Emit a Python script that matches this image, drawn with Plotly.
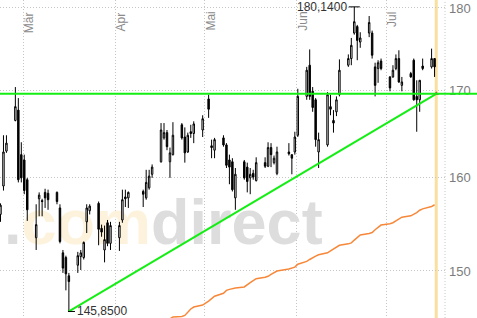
import numpy as np
import pandas as pd
import plotly.graph_objects as go

# ---------------- data ----------------
dates = [
    "2018-02-21", "2018-02-22", "2018-02-23", "2018-02-26", "2018-02-27", "2018-02-28",
    "2018-03-01", "2018-03-02", "2018-03-05", "2018-03-06", "2018-03-07", "2018-03-08", "2018-03-09",
    "2018-03-12", "2018-03-13", "2018-03-14", "2018-03-15", "2018-03-16",
    "2018-03-19", "2018-03-20", "2018-03-21", "2018-03-22", "2018-03-23",
    "2018-03-26", "2018-03-27", "2018-03-28", "2018-03-29", "2018-03-30",
    "2018-04-02", "2018-04-03", "2018-04-04", "2018-04-05",
    "2018-04-10", "2018-04-11", "2018-04-12", "2018-04-13",
    "2018-04-16", "2018-04-17", "2018-04-18", "2018-04-19", "2018-04-20",
    "2018-04-23", "2018-04-24", "2018-04-25", "2018-04-26", "2018-04-27",
    "2018-04-30", "2018-05-02", "2018-05-03", "2018-05-04",
    "2018-05-07", "2018-05-08", "2018-05-09", "2018-05-10", "2018-05-11",
    "2018-05-14", "2018-05-15", "2018-05-16", "2018-05-17", "2018-05-18",
    "2018-05-21", "2018-05-22", "2018-05-23", "2018-05-24", "2018-05-25",
    "2018-05-29", "2018-05-30", "2018-05-31", "2018-06-01",
    "2018-06-04", "2018-06-05", "2018-06-06", "2018-06-07", "2018-06-08",
    "2018-06-11", "2018-06-12", "2018-06-13", "2018-06-14", "2018-06-15",
    "2018-06-18", "2018-06-19", "2018-06-20", "2018-06-21", "2018-06-22",
    "2018-06-25", "2018-06-26", "2018-06-27", "2018-06-28", "2018-06-29",
    "2018-07-02", "2018-07-03", "2018-07-04", "2018-07-05", "2018-07-06",
    "2018-07-09", "2018-07-10", "2018-07-11", "2018-07-12", "2018-07-13",
    "2018-07-16", "2018-07-17",
]
opens = [
    156.0, 159.1, 163.0, 166.5, 167.7, 162.6,
    162.0, 159.8, 153.5, 157.7, 157.5, 158.4, 158.3,
    158.4, 156.7, 151.9, 151.4, 149.5,
    150.6, 151.5, 151.4, 155.2, 156.4,
    157.2, 154.5, 152.2, 155.1, 152.9,
    153.5, 155.4, 157.9, 157.8,
    158.5, 157.8, 158.9, 160.4,
    161.8, 164.5, 165.1, 161.8, 162.6,
    166.0, 164.6, 162.9, 165.2, 165.0,
    165.4, 169.0, 163.6, 163.1,
    164.5, 163.7, 162.0, 161.8, 157.8,
    161.8, 161.2, 160.0, 160.5, 159.7,
    161.7, 161.3, 163.4, 161.7, 160.5,
    162.9, 162.6, 162.9, 164.8,
    169.3, 173.0, 169.9, 168.9, 162.9,
    163.7, 168.1, 166.5, 167.5, 169.5,
    173.0, 173.8, 176.9, 177.7, 175.8,
    176.9, 176.9, 172.8, 172.6, 173.5,
    171.6, 171.6, 172.6, 173.8, 170.6,
    172.0, 173.6, 169.3, 168.9, 172.9,
    172.8, 173.8,
]
highs = [
    157.2, 164.8, 164.8, 170.4, 169.1, 164.0,
    162.6, 160.0, 157.1, 158.4, 157.7, 158.8, 158.7,
    158.5, 157.1, 152.2, 151.6, 149.8,
    152.0, 152.2, 153.1, 157.1, 157.1,
    157.4, 154.9, 154.8, 155.4, 155.2,
    155.2, 158.7, 158.7, 158.5,
    158.7, 160.9, 160.9, 161.5,
    166.2, 166.2, 165.4, 163.4, 166.3,
    166.2, 165.7, 165.1, 166.0, 166.4,
    167.1, 169.5, 164.3, 164.5,
    164.8, 163.9, 162.6, 162.2, 161.1,
    162.0, 161.7, 161.1, 160.9, 162.3,
    162.3, 164.0, 163.9, 162.5, 163.5,
    163.9, 162.6, 165.2, 170.2,
    172.8, 174.9, 170.4, 169.1, 165.1,
    169.8, 169.5, 167.7, 169.3, 173.7,
    174.3, 176.3, 180.14, 177.9, 177.0,
    179.0, 177.2, 173.3, 173.6, 173.8,
    171.7, 173.0, 174.3, 174.8, 171.6,
    172.2, 173.8, 171.2, 171.2, 173.8,
    175.0, 173.8,
]
lows = [
    155.2, 158.6, 162.8, 166.4, 159.5, 159.5,
    158.2, 155.3, 152.2, 155.8, 155.8, 156.7, 156.5,
    157.1, 152.9, 149.8, 148.0, 145.85,
    149.8, 150.1, 151.2, 154.0, 156.0,
    152.7, 153.6, 150.9, 152.6, 152.2,
    152.1, 155.1, 156.8, 156.7,
    156.8, 157.6, 158.7, 160.0,
    161.7, 164.3, 163.1, 160.0, 162.5,
    164.3, 161.7, 162.8, 164.5, 163.9,
    164.6, 166.8, 162.2, 162.2,
    163.5, 161.1, 159.3, 158.5, 156.5,
    159.8, 158.4, 158.2, 159.8, 159.6,
    161.1, 161.2, 161.2, 161.5, 160.3,
    162.5, 160.4, 162.6, 164.6,
    168.9, 168.9, 167.5, 163.5, 161.1,
    163.5, 167.1, 165.1, 167.0, 169.3,
    172.8, 173.0, 176.7, 173.6, 175.1,
    176.4, 173.8, 169.3, 170.9, 172.4,
    169.9, 171.5, 172.4, 170.9, 169.9,
    171.5, 168.8, 165.2, 167.5, 172.4,
    172.6, 171.6,
]
closes = [
    157.0, 162.9, 163.9, 168.1, 159.8, 160.0,
    158.6, 156.5, 154.9, 158.1, 157.4, 157.8, 157.6,
    157.4, 153.1, 150.3, 149.7, 148.9,
    151.6, 151.9, 153.0, 156.7, 156.9,
    154.4, 154.1, 153.3, 152.9, 154.8,
    154.8, 157.6, 157.7, 158.4,
    158.2, 159.5, 160.2, 161.2,
    165.4, 165.1, 163.5, 162.8, 164.8,
    164.5, 162.8, 164.8, 165.0, 166.1,
    166.7, 167.8, 163.4, 164.3,
    163.7, 161.4, 161.2, 158.7, 160.4,
    160.0, 159.6, 160.4, 160.1, 161.7,
    161.3, 163.4, 162.6, 162.2, 162.9,
    162.7, 162.2, 164.6, 169.3,
    172.4, 169.3, 168.0, 164.3, 164.3,
    169.5, 167.8, 166.2, 168.9, 172.4,
    173.8, 175.4, 178.3, 176.0, 176.3,
    178.2, 174.2, 170.6, 173.3, 172.6,
    170.3, 172.4, 173.8, 171.0, 171.0,
    171.6, 168.9, 168.9, 171.2, 172.6,
    173.8, 172.8,
]

# moving average (orange), from 2018-04-16 onward
ma_start = "2018-04-16"
ma_values = [
    144.3, 144.6, 144.9, 145.1, 145.3,
    145.35, 145.45, 145.8, 146.1, 146.3,
    146.5,
    146.9, 147.2, 147.4,
    147.7, 148.0, 148.1, 148.2, 148.25,
    148.35, 148.6, 148.8, 149.0, 149.2,
    149.35, 149.45, 149.65, 149.85, 150.0,
    150.2, 150.3, 150.4,
    150.7,
    151.0, 151.2, 151.4, 151.55, 151.7,
    151.9, 152.1, 152.3, 152.5, 152.7,
    152.85, 152.95, 153.25, 153.5, 153.8,
    153.95, 154.05, 154.35, 154.6, 154.85,
    155.0, 155.1, 155.3, 155.5, 155.7,
    155.85, 156.0, 156.2, 156.45, 156.6,
    156.85, 157.05,
]

high_date, high_value, high_text = "2018-06-20", 180.14, "180,1400"
low_date, low_value, low_text = "2018-03-16", 145.85, "145,8500"
resistance_level = 169.6
trend_end_date, trend_end_value = "2018-07-17 21:30", 169.6
today_date = "2018-07-17 21:30"

month_ticks = ["2018-03-01", "2018-04-01", "2018-05-01", "2018-06-01", "2018-07-01"]
month_labels = ["Mär", "Apr", "Mai", "Jun", "Jul"]
y_ticks = [150, 160, 170, 180]
y_labels = ["150", "160", "170", "180"]

x_range = [pd.Timestamp("2018-02-21 04:00"), pd.Timestamp("2018-07-20 20:15")]
y_range = [145.19, 181.0]

# ---------------- layout constants ----------------
W, H = 477, 318
PLOT_W = 445
GRID = "#c6c6c6"
DOT = "1px,2px"
GREEN = "#14ee14"
FONT = "Liberation Sans, Arial, sans-serif"

ly0, ly1 = np.log10(y_range[0]), np.log10(y_range[1])
cx = pd.to_datetime(dates) + pd.Timedelta(hours=8)
ma_x = cx[dates.index(ma_start):]


def x_at_px(px):
    return x_range[0] + (x_range[1] - x_range[0]) * (px / PLOT_W)


def y_at_px(py):
    return 10 ** (ly1 - (py / H) * (ly1 - ly0))


def yfrac(v):
    return (np.log10(v) - ly0) / (ly1 - ly0)


fig = go.Figure()

# watermark on the base axes (below everything on the overlay axes)
wm_text = ("<span style='color:#dddddd'>.</span>"
           "<span style='color:#fdf3dc'>com</span>"
           "<span style='color:#dddddd'>direct</span>")
fig.add_trace(go.Scatter(
    x=[x_at_px(4)], y=[y_at_px(228)], mode="text", text=[wm_text],
    textposition="middle right",
    textfont=dict(family="Liberation Sans, Arial, sans-serif", size=63,
                  color="#dddddd", weight="bold"),
    hoverinfo="skip", showlegend=False, xaxis="x", yaxis="y",
))

# candles on overlay axes
fig.add_trace(go.Candlestick(
    x=cx, open=opens, high=highs, low=lows, close=closes,
    increasing=dict(line=dict(color="black", width=1), fillcolor="white"),
    decreasing=dict(line=dict(color="black", width=1), fillcolor="black"),
    whiskerwidth=0, showlegend=False, xaxis="x2", yaxis="y2",
))

# moving average
fig.add_trace(go.Scatter(
    x=ma_x, y=ma_values, mode="lines", line=dict(color="#f7883a", width=1.5),
    hoverinfo="skip", showlegend=False, xaxis="x2", yaxis="y2",
))

# trend line from the low
low_x = pd.Timestamp(low_date) + pd.Timedelta(hours=8)
fig.add_trace(go.Scatter(
    x=[low_x, pd.Timestamp(trend_end_date)], y=[low_value, trend_end_value],
    mode="lines", line=dict(color=GREEN, width=2),
    hoverinfo="skip", showlegend=False, xaxis="x2", yaxis="y2",
))

# high / low tick marks
high_x = pd.Timestamp(high_date) + pd.Timedelta(hours=8)
fig.add_trace(go.Scatter(
    x=[high_x - pd.Timedelta(days=1.85), high_x + pd.Timedelta(days=1.85)],
    y=[high_value, high_value], mode="lines", line=dict(color="black", width=1),
    hoverinfo="skip", showlegend=False, xaxis="x2", yaxis="y2",
))
fig.add_trace(go.Scatter(
    x=[low_x - pd.Timedelta(days=0.3), low_x + pd.Timedelta(days=2.05)],
    y=[low_value, low_value], mode="lines", line=dict(color="black", width=1),
    hoverinfo="skip", showlegend=False, xaxis="x2", yaxis="y2",
))

# end marker of trend
fig.add_trace(go.Scatter(
    x=[pd.Timestamp(trend_end_date)], y=[trend_end_value], mode="markers",
    marker=dict(symbol="triangle-up", size=5, color="#a06a35"),
    hoverinfo="skip", showlegend=False, xaxis="x2", yaxis="y2", cliponaxis=False,
))

annotations = []
for d, lab in zip(month_ticks, month_labels):
    annotations.append(dict(
        x=pd.Timestamp(d) + pd.Timedelta(hours=44), xref="x", y=1 - 10 / H, yref="paper",
        text=lab, textangle=-90, showarrow=False, xanchor="center", yanchor="top",
        font=dict(family=FONT, size=12, color="#8a8a8a"),
    ))
annotations.append(dict(
    x=high_x - pd.Timedelta(days=1.85), xref="x2", y=np.log10(high_value), yref="y2",
    text=high_text, showarrow=False, xanchor="right", yanchor="middle", xshift=0,
    font=dict(family=FONT, size=12, color="#333333"),
))
annotations.append(dict(
    x=low_x + pd.Timedelta(days=2.05), xref="x2", y=np.log10(low_value), yref="y2",
    text=low_text, showarrow=False, xanchor="left", yanchor="middle", xshift=0,
    font=dict(family=FONT, size=12, color="#333333"),
))

shapes = [
    dict(type="line", xref="paper", yref="paper", x0=1, x1=1, y0=0, y1=1,
         line=dict(color=GRID, width=1, dash=DOT), layer="below"),
    dict(type="line", xref="x", yref="paper", x0=today_date, x1=today_date, y0=0, y1=1,
         line=dict(color="rgba(250,212,128,0.75)", width=3), layer="below"),
    dict(type="line", xref="paper", yref="paper", x0=0, x1=W / PLOT_W,
         y0=yfrac(resistance_level), y1=yfrac(resistance_level),
         line=dict(color=GREEN, width=2), layer="above"),
]

fig.update_layout(
    width=W, height=H,
    margin=dict(l=0, r=W - PLOT_W, t=0, b=0, pad=0),
    paper_bgcolor="white", plot_bgcolor="white",
    showlegend=False,
    xaxis=dict(type="date", range=x_range, tickvals=month_ticks, showticklabels=False,
               ticks="", showgrid=True, gridcolor=GRID, griddash=DOT, gridwidth=1,
               zeroline=False, showline=False, rangeslider=dict(visible=False),
               fixedrange=True),
    yaxis=dict(type="log", range=[ly0, ly1], side="right", tickvals=y_ticks,
               ticktext=y_labels, ticks="", showgrid=True, gridcolor=GRID, griddash=DOT,
               gridwidth=1, zeroline=False, showline=False, ticklabelstandoff=3,
               tickfont=dict(family=FONT, size=13, color="#7c7c7c"), fixedrange=True),
    xaxis2=dict(type="date", range=x_range, overlaying="x", visible=False,
                showgrid=False, rangeslider=dict(visible=False), anchor="y2"),
    yaxis2=dict(type="log", range=[ly0, ly1], overlaying="y", visible=False,
                showgrid=False, side="right", anchor="x2"),
    annotations=annotations,
    shapes=shapes,
    font=dict(family=FONT),
)

fig.write_html("out.html")
